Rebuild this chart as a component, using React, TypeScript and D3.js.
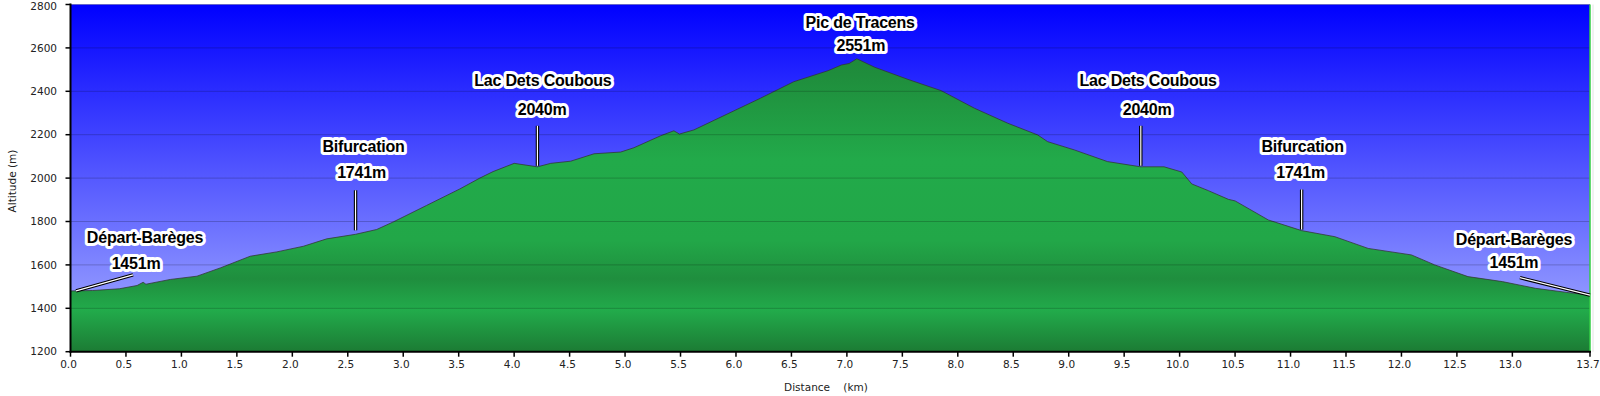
import React from "react";
import * as d3 from "d3";

// ---- data ----
const distanceKm = [
  0.0, 0.2, 0.44, 0.6, 0.655, 0.68, 0.9, 1.14, 1.35, 1.62, 1.86, 2.1, 2.31, 2.57, 2.76, 2.91,
  3.21, 3.51, 3.69, 3.81, 4.0, 4.21, 4.33, 4.51, 4.72, 4.96, 5.08, 5.32, 5.44, 5.49, 5.62,
  5.92, 6.22, 6.52, 6.83, 6.95, 7.02, 7.09, 7.25, 7.55, 7.85, 8.15, 8.45, 8.72, 8.81, 9.05, 9.35,
  9.65, 9.86, 10.02, 10.11, 10.26, 10.44, 10.5, 10.8, 11.1, 11.4, 11.7, 12.09, 12.3, 12.6,
  12.91, 13.21, 13.51, 13.7,
];
const altitudeM = [
  1480, 1482, 1490, 1505, 1520, 1511, 1533, 1548, 1586, 1640, 1660, 1686, 1720, 1741, 1763, 1798,
  1874, 1950, 2000, 2030, 2068, 2052, 2068, 2078, 2112, 2120, 2140, 2195, 2218, 2203, 2222,
  2295, 2368, 2444, 2495, 2521, 2528, 2550, 2511, 2455, 2403, 2322, 2253, 2199, 2168, 2130, 2076,
  2052, 2052, 2028, 1973, 1942, 1902, 1895, 1807, 1758, 1730, 1676, 1646, 1600, 1546,
  1523, 1492, 1472, 1461,
];
const yTicks = [1200, 1400, 1600, 1800, 2000, 2200, 2400, 2600, 2800];
const xTicks = [0, 0.5, 1, 1.5, 2, 2.5, 3, 3.5, 4, 4.5, 5, 5.5, 6, 6.5, 7, 7.5, 8, 8.5, 9, 9.5, 10, 10.5, 11, 11.5, 12, 12.5, 13, 13.7];
const markerNames = ["Départ-Barèges", "Bifurcation", "Lac Dets Coubous", "Pic de Tracens", "Lac Dets Coubous", "Bifurcation", "Départ-Barèges"];
const markerValues = ["1451m", "1741m", "2040m", "2551m", "2040m", "1741m", "1451m"];
const markerDistance = [0.05, 2.57, 4.21, 7.09, 9.65, 11.1, 13.7];
const markerAltitude = [1480, 1741, 2052, 2550, 2052, 1758, 1461];

// ---- layout (pixel offsets of labels relative to marker point) ----
const labelLayout = [
  { nx: 69, ny: -54, vx: 60, vy: -28, l: [0, 0, 57, -16] },
  { nx: 8, ny: -88, vx: 6, vy: -62, l: [0, -4, 0, -44] },
  { nx: 5.5, ny: -87, vx: 4.7, vy: -58, l: [0, -1, 0, -41] },
  { nx: 3.3, ny: -37, vx: 4, vy: -14, l: null },
  { nx: 7.3, ny: -87, vx: 6.3, vy: -58, l: [0, -1, 0, -41] },
  { nx: 1, ny: -84, vx: -1, vy: -58, l: [0, -1, 0, -41] },
  { nx: -76, ny: -56, vx: -76, vy: -32.5, l: [0, 0, -70, -17.4] },
];

const W = 1600;
const H = 396;
const L = 70.5;
const R = 1590;
const T = 4.5;
const B = 351.7;

export default function App() {
  const x = d3.scaleLinear().domain([0, 13.7]).range([L, R]);
  const y = d3.scaleLinear().domain([1200, 2800]).range([B, T]);
  const pts: [number, number][] = distanceKm.map((d, i) => [d, altitudeM[i]]);
  const area = d3
    .area<[number, number]>()
    .x((p) => x(p[0]))
    .y0(B)
    .y1((p) => y(p[1]));
  const line = d3
    .line<[number, number]>()
    .x((p) => x(p[0]))
    .y((p) => y(p[1]));

  const tickFont = "'DejaVu Sans', Verdana, sans-serif";
  const labelFont = "'Liberation Sans', Arial, sans-serif";

  return (
    <div style={{ position: "absolute", left: 0, top: 0 }}>
      <svg width={W} height={H} style={{ display: "block", background: "#fff" }}>
        <defs>
          <linearGradient id="sky" gradientUnits="userSpaceOnUse" x1="0" y1={T} x2="0" y2={B}>
            <stop offset="0" stopColor="#0000ff" />
            <stop offset="1" stopColor="#aab2ff" />
          </linearGradient>
          <linearGradient id="ground" gradientUnits="userSpaceOnUse" x1="0" y1={T} x2="0" y2={B}>
            <stop offset="0" stopColor="#1d7d34" />
            <stop offset="0.2" stopColor="#1f8d3c" />
            <stop offset="0.45" stopColor="#22aa4a" />
            <stop offset="0.68" stopColor="#22a748" />
            <stop offset="0.79" stopColor="#1f8e3e" />
            <stop offset="0.88" stopColor="#22ab4b" />
            <stop offset="1" stopColor="#1c7b34" />
          </linearGradient>
        </defs>

        {/* plot background */}
        <rect x={L} y={T} width={R - L} height={B - T} fill="url(#sky)" />

        {/* profile */}
        <path d={area(pts) || ""} fill="url(#ground)" />
        <path d={line(pts) || ""} fill="none" stroke="#333" strokeOpacity={0.75} strokeWidth={1} />

        {/* gridlines */}
        {yTicks.slice(1).map((t) => (
          <line key={"g" + t} x1={L} x2={R} y1={y(t)} y2={y(t)} stroke="#000" strokeOpacity={0.2} strokeWidth={1} />
        ))}

        {/* right edge */}
        <line x1={R} x2={R} y1={T} y2={B} stroke="#33cc44" strokeWidth={1.5} />
        <line x1={R + 3} x2={R + 3} y1={T} y2={B} stroke="#e4e4e4" strokeWidth={1} />

        {/* axes */}
        <line x1={L} x2={L} y1={T - 1} y2={B + 1} stroke="#000" strokeWidth={2} />
        <line x1={L - 1} x2={R + 1} y1={B} y2={B} stroke="#000" strokeWidth={2} />

        {yTicks.map((t) => (
          <g key={"yt" + t}>
            <line x1={L - 5} x2={L} y1={y(t)} y2={y(t)} stroke="#000" strokeWidth={1.5} />
            <text x={57} y={Math.max(y(t), 6.5)} dy="0.35em" textAnchor="end" fontFamily={tickFont} fontSize={10.5} fill="#222">
              {t}
            </text>
          </g>
        ))}
        {xTicks.map((t) => (
          <g key={"xt" + t}>
            <line x1={x(t)} x2={x(t)} y1={B} y2={B + 5} stroke="#000" strokeWidth={1.5} />
            <text x={x(t) - 2} y={364} dy="0.35em" textAnchor="middle" fontFamily={tickFont} fontSize={10.5} fill="#222">
              {t.toFixed(1)}
            </text>
          </g>
        ))}

        <text
          transform={`translate(12.5,181) rotate(-90)`}
          textAnchor="middle"
          dy="0.35em"
          fontFamily={tickFont}
          fontSize={10.5}
          fill="#222"
        >
          Altitude (m)
        </text>
        <text x={826} y={387} dy="0.35em" textAnchor="middle" fontFamily={tickFont} fontSize={10.5} fill="#222" style={{ whiteSpace: "pre" }}>
          {"Distance    (km)"}
        </text>

        {/* markers */}
        {markerNames.map((name, i) => {
          const px = x(markerDistance[i]);
          const py = y(markerAltitude[i]);
          const lay = labelLayout[i];
          return (
            <g key={"m" + i}>
              {lay.l && (
                <g>
                  <line x1={px + lay.l[0]} y1={py + lay.l[1]} x2={px + lay.l[2]} y2={py + lay.l[3]} stroke="#000" strokeWidth={3.4} />
                  <line x1={px + lay.l[0]} y1={py + lay.l[1]} x2={px + lay.l[2]} y2={py + lay.l[3]} stroke="#fff" strokeWidth={1.2} />
                </g>
              )}
              {[
                { t: name, dx: lay.nx, dy: lay.ny },
                { t: markerValues[i], dx: lay.vx, dy: lay.vy },
              ].map((o, k) => (
                <text
                  key={k}
                  x={px + o.dx}
                  y={py + o.dy}
                  dy="0.36em"
                  textAnchor="middle"
                  fontFamily={labelFont}
                  fontWeight="bold"
                  fontSize={16}
                  letterSpacing={-0.2}
                  fill="#000"
                  stroke="#fff"
                  strokeWidth={6}
                  strokeLinejoin="round"
                  paintOrder="stroke"
                >
                  {o.t}
                </text>
              ))}
            </g>
          );
        })}
      </svg>
    </div>
  );
}
